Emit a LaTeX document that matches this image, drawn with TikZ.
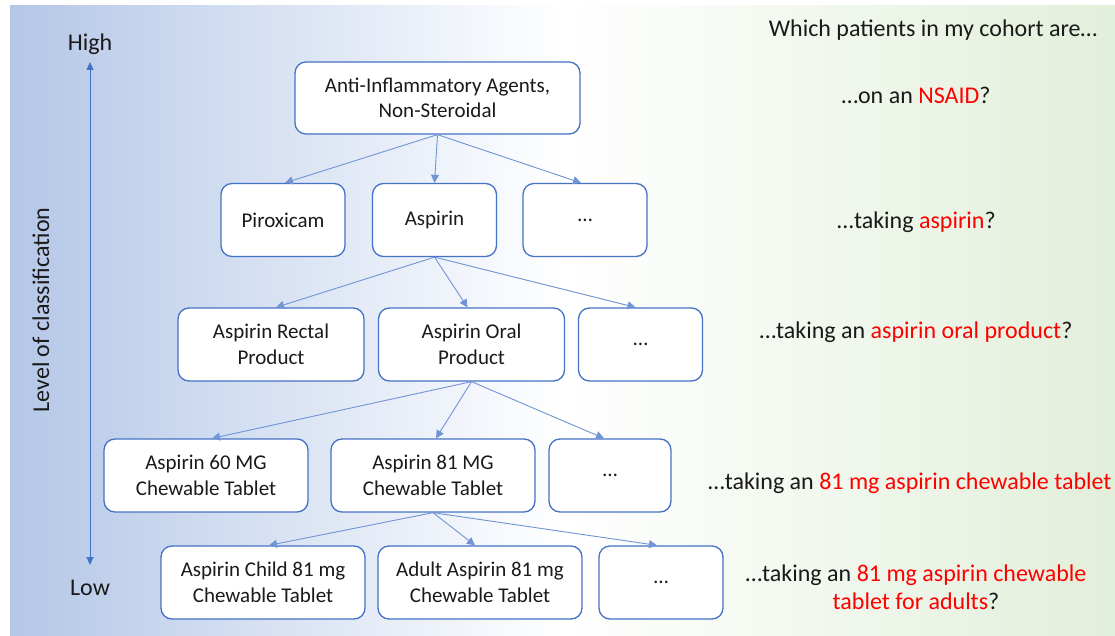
\documentclass[tikz,border=0pt]{standalone}
\usepackage{fontspec}
\setmainfont{Carlito}
\usetikzlibrary{arrows.meta}

\definecolor{boxblue}{HTML}{4472C4}
\definecolor{linkblue}{HTML}{7094D6}
\definecolor{bgblue}{HTML}{B4C7E7}
\definecolor{bggreen}{HTML}{E2EFDA}
\definecolor{hl}{HTML}{FF0000}
\definecolor{ink}{HTML}{1A1A1A}

\begin{document}
\begin{tikzpicture}[x=1pt,y=-1pt,
  box/.style={draw=boxblue, line width=1.3pt, fill=white, rounded corners=11pt,
    align=center, inner sep=0pt, minimum height=73pt, text=ink,
    font=\fontsize{21}{25.5}\selectfont},
  wide/.style={box, minimum width=204pt},
  mid/.style={box, minimum width=186pt},
  narrow/.style={box, minimum width=124pt},
  link/.style={draw=linkblue, line width=0.9pt, -{Triangle[length=8pt,width=8pt]}},
  axisline/.style={draw=boxblue, line width=1pt,
    {Triangle[length=8pt,width=7pt]}-{Triangle[length=8pt,width=7pt]}},
  label/.style={text=ink, inner sep=0pt, font=\fontsize{24}{28}\selectfont},
  question/.style={label, align=center}
]
\useasboundingbox (0,0) rectangle (1115,636);

% background: blue fading to white, then white fading to green
\shade[left color=bgblue, right color=white] (10,6) rectangle (562,636);
\shade[left color=white, right color=bggreen] (562,6) rectangle (1115,636);

% classification axis
\coordinate (axtop) at (90,62);
\coordinate (axbot) at (90,565);
\draw[axisline] (axbot) -- (axtop);
\node[label] (high) at (90,44) {High};
\node[label] (low) at (90,588) {Low};
\node[label, rotate=90] (level) at (41,310) {Level of classification};

% hierarchy
\node[box, minimum width=285pt, minimum height=72pt] (root) at (437.5,98)
  {Anti-Inflammatory Agents,\\Non-Steroidal};

\node[narrow] (pir)  at (283,220)   {Piroxicam};
\node[narrow] (asp)  at (434.5,220) {Aspirin};
\node[narrow] (etc1) at (585,220)   {…};

\node[mid]    (rect) at (271,344.5)   {Aspirin Rectal\\Product};
\node[mid]    (oral) at (471.5,344.5) {Aspirin Oral\\Product};
\node[narrow] (etc2) at (640.5,344.5) {…};

\node[wide]   (mg60) at (206,475.5) {Aspirin 60 MG\\Chewable Tablet};
\node[wide]   (mg81) at (433,475.5) {Aspirin 81 MG\\Chewable Tablet};
\node[box, minimum width=122pt] (etc3) at (610,475.5) {…};

\node[wide]   (child) at (263,582.5) {Aspirin Child 81 mg\\Chewable Tablet};
\node[wide]   (adult) at (480,582.5) {Adult Aspirin 81 mg\\Chewable Tablet};
\node[narrow] (etc4)  at (661,582.5) {…};

\draw[link] (root.south) -- ([xshift=2pt]pir.north);
\draw[link] (root.south) -- (asp.north);
\draw[link] (root.south) -- ([xshift=-4pt]etc1.north);

\draw[link] (asp.south) -- ([xshift=5pt]rect.north);
\draw[link] (asp.south) -- ([xshift=-4pt]oral.north);
\draw[link] (asp.south) -- ([xshift=-5pt]etc2.north);

\draw[link] (oral.south) -- ([xshift=6pt]mg60.north);
\draw[link] (oral.south) -- ([xshift=3pt]mg81.north);
\draw[link] (oral.south) -- ([xshift=-6pt]etc3.north);

\draw[link] (mg81.south) -- ([xshift=6pt]child.north);
\draw[link] (mg81.south) -- ([xshift=-5pt]adult.north);
\draw[link] (mg81.south) -- ([xshift=-4pt]etc4.north);

% questions
\node[question] (q0) at (933,30) {Which patients in my cohort are…};
\node[question] (q1) at (916,95) {…on an \textcolor{hl}{NSAID}?};
\node[question] (q2) at (916,222) {...taking \textcolor{hl}{aspirin}?};
\node[question] (q3) at (916,332) {…taking an \textcolor{hl}{aspirin oral product}?};
\node[question, anchor=west] (q4) at (708,483)
  {…taking an \textcolor{hl}{81 mg aspirin chewable tablet}};
\node[question] (q5) at (916,587)
  {…taking an \textcolor{hl}{81 mg aspirin chewable}\\\textcolor{hl}{tablet for adults}?};
\end{tikzpicture}
\end{document}
